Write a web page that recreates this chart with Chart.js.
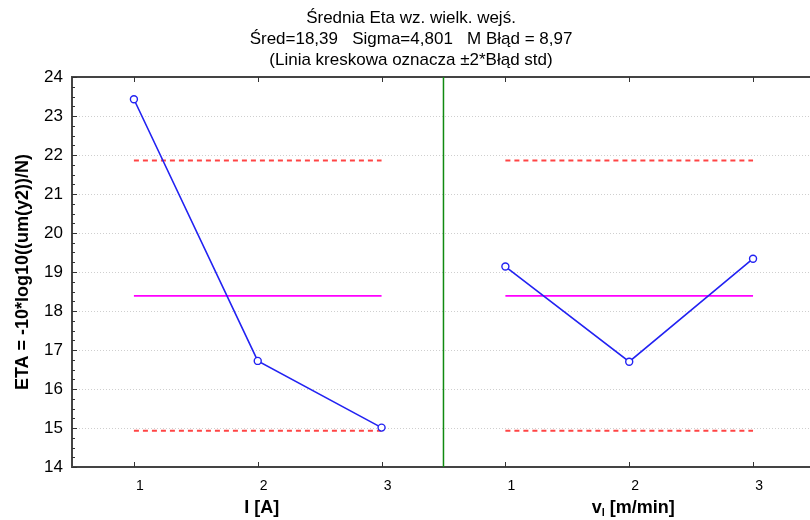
<!DOCTYPE html>
<html>
<head>
<meta charset="utf-8">
<script src="https://cdn.jsdelivr.net/npm/chart.js@4.4.1/dist/chart.umd.min.js"></script>
<style>
  html, body { margin: 0; padding: 0; background: #fff; }
  #wrap { width: 810px; height: 520px; position: relative; }
</style>
</head>
<body>
<div id="wrap"><canvas id="etaChart"></canvas></div>
<script>
// dane
const titleLines = [
    'Średnia Eta wz. wielk. wejś.',
    'Śred=18,39   Sigma=4,801   M Błąd = 8,97',
    '(Linia kreskowa oznacza ±2*Błąd std)'
];
const yTitle = 'ETA = -10*log10((um(y2))/N)';
const levels = [1, 2, 3];
const etaCurrent = [23.43, 16.72, 15.01];   // I [A]
const etaSpeed = [19.14, 16.70, 19.34];     // v_l [m/min]
const grandMean = 18.39;
const upperLimit = 21.86;
const lowerLimit = 14.93;
const yMin = 14, yMax = 24;
const factorLabels = [
    { main: 'I [A]', sub: '', rest: '' },
    { main: 'v', sub: 'l', rest: ' [m/min]' }
];

const FONT = "'Liberation Sans', Arial, sans-serif";
const panelSize = levels.length;
const factors = [etaCurrent, etaSpeed];

// pozycje na osi x: kazdy czynnik ma swoj panel
const xPos = (f, lvl) => lvl + f * panelSize;
const tickPositions = [];
factors.forEach((_, f) => levels.forEach(l => tickPositions.push(xPos(f, l))));
const dividerX = panelSize + 0.5;

const datasets = [];
factors.forEach((vals, f) => {
    datasets.push({
        data: levels.map((l, i) => ({ x: xPos(f, l), y: vals[i] })),
        borderColor: '#2222f2',
        borderWidth: 1.6,
        pointRadius: 3.5,
        pointBorderWidth: 1.4,
        pointBackgroundColor: '#ffffff',
        pointBorderColor: '#2222f2',
        showLine: true
    });
    const first = xPos(f, levels[0]), last = xPos(f, levels[levels.length - 1]);
    datasets.push({
        data: [{ x: first, y: grandMean }, { x: last, y: grandMean }],
        borderColor: '#ff00ff', borderWidth: 1.7, pointRadius: 0, showLine: true
    });
    [upperLimit, lowerLimit].forEach(lim => {
        datasets.push({
            data: [{ x: first, y: lim }, { x: last, y: lim }],
            borderColor: '#ff4444', borderWidth: 1.9, borderDash: [5, 4],
            pointRadius: 0, showLine: true
        });
    });
});
datasets.push({
    data: [{ x: dividerX, y: yMin }, { x: dividerX, y: yMax }],
    borderColor: '#108a10', borderWidth: 1.5, pointRadius: 0, showLine: true
});

// tytul, podpisy czynnikow i kreski podzialki do srodka
const decorPlugin = {
    id: 'decor',
    afterDraw(chart) {
        const { ctx, chartArea: a, scales } = chart;
        const x = scales.x, y = scales.y;
        ctx.save();
        ctx.strokeStyle = '#333';
        ctx.lineWidth = 1;
        for (let v = yMin; v <= yMax + 1e-9; v += 0.25) {
            const py = Math.round(y.getPixelForValue(v)) + 0.5;
            const len = Number.isInteger(v) ? 5 : 3;
            ctx.beginPath();
            ctx.moveTo(a.left, py);
            ctx.lineTo(a.left + len, py);
            ctx.stroke();
        }
        tickPositions.forEach(v => {
            const px = Math.round(x.getPixelForValue(v)) + 0.5;
            ctx.beginPath();
            ctx.moveTo(px, a.bottom);
            ctx.lineTo(px, a.bottom - 5);
            ctx.moveTo(px, a.top);
            ctx.lineTo(px, a.top + 5);
            ctx.stroke();
        });

        ctx.fillStyle = '#000';
        ctx.textAlign = 'center';
        ctx.textBaseline = 'middle';
        ctx.font = '17px ' + FONT;
        titleLines.forEach((t, i) => ctx.fillText(t, 411, 18 + i * 21));

        factorLabels.forEach((lab, f) => {
            const cx = x.getPixelForValue(xPos(f, levels[1])) + 4;
            const cy = 508;
            const mainFont = 'bold 18px ' + FONT, subFont = 'bold 11px ' + FONT;
            ctx.font = mainFont;
            const w1 = ctx.measureText(lab.main).width;
            const w3 = ctx.measureText(lab.rest).width;
            ctx.font = subFont;
            const w2 = ctx.measureText(lab.sub).width;
            let sx = cx - (w1 + w2 + w3) / 2;
            ctx.textAlign = 'left';
            ctx.font = mainFont;
            ctx.fillText(lab.main, sx, cy);
            sx += w1;
            ctx.font = subFont;
            ctx.fillText(lab.sub, sx, cy + 5);
            sx += w2;
            ctx.font = mainFont;
            ctx.fillText(lab.rest, sx, cy);
        });
        ctx.restore();
    }
};

const ctx = document.getElementById('etaChart');
new Chart(ctx, {
    type: 'scatter',
    data: { datasets },
    options: {
        responsive: true,
        maintainAspectRatio: false,
        animation: false,
        layout: { padding: 0, autoPadding: false },
        plugins: { legend: { display: false }, tooltip: { enabled: false } },
        scales: {
            x: {
                type: 'linear', position: 'bottom',
                min: 0.5, max: 6.46,
                afterBuildTicks: s => { s.ticks = tickPositions.map(v => ({ value: v })); },
                afterFit: s => { s.height = 53; },
                ticks: {
                    callback: v => ((v - 1) % panelSize) + 1,
                    font: { family: FONT, size: 14 }, color: '#000',
                    labelOffset: 6, padding: 3, maxRotation: 0, autoSkip: false
                },
                grid: { display: false },
                border: { display: true, color: '#444', width: 2 }
            },
            xTop: {
                type: 'linear', position: 'top',
                min: 0.5, max: 6.46,
                afterFit: s => { s.height = 77; },
                ticks: { display: false },
                grid: { display: false },
                border: { display: true, color: '#444', width: 2 }
            },
            y: {
                min: yMin, max: yMax,
                afterFit: s => { s.width = 72; },
                ticks: {
                    stepSize: 1,
                    font: { family: FONT, size: 17 }, color: '#000', padding: 9
                },
                grid: { color: '#cfcfcf', lineWidth: 1, drawTicks: false },
                border: { display: true, color: '#444', width: 2, dash: [1, 2] },
                title: {
                    display: true, text: yTitle, color: '#000',
                    font: { family: FONT, size: 18, weight: 'bold' },
                    padding: { top: 12, bottom: 0 }
                }
            }
        }
    },
    plugins: [decorPlugin]
});
</script>
</body>
</html>
